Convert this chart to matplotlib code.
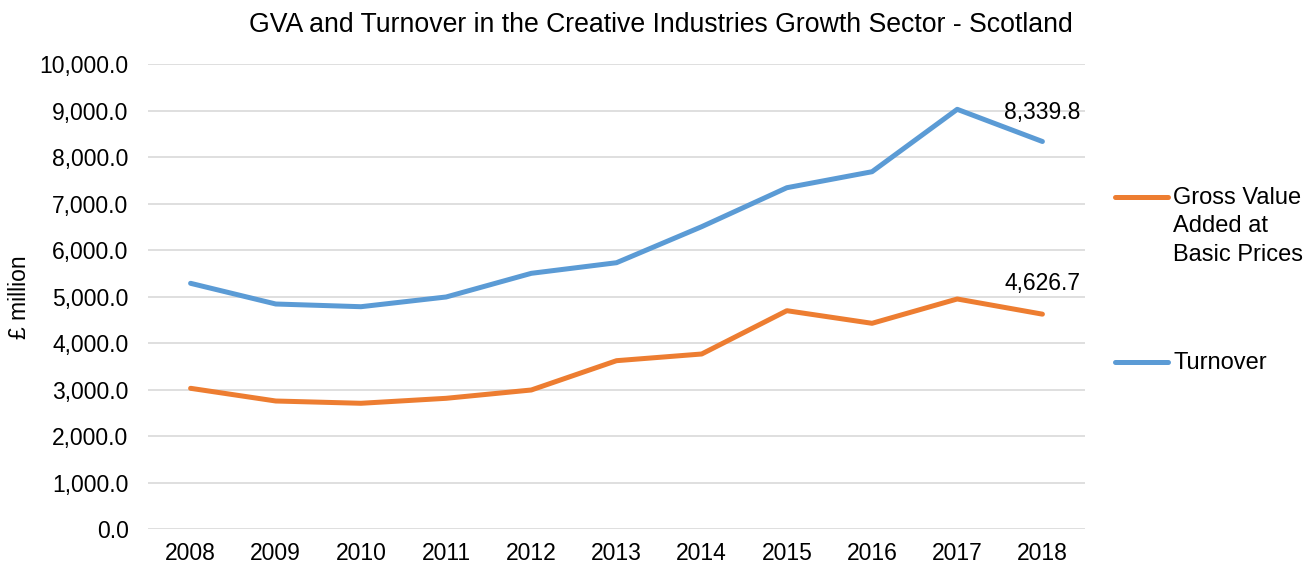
import matplotlib
matplotlib.use("Agg")
import matplotlib.pyplot as plt
from matplotlib.lines import Line2D
from matplotlib.ticker import FuncFormatter

plt.rcParams["font.family"] = ["Liberation Sans", "DejaVu Sans"]

years = ["2008", "2009", "2010", "2011", "2012", "2013", "2014", "2015", "2016", "2017", "2018"]
gva = [3032, 2759, 2710, 2817, 2996, 3626, 3770, 4701, 4430, 4953, 4626.7]
turnover = [5290, 4845, 4787, 4996, 5505, 5733, 6508, 7346, 7690, 9032, 8339.8]

gva_label = "Gross Value\nAdded at\nBasic Prices"
turnover_label = "Turnover"
title = "GVA and Turnover in the Creative Industries Growth Sector - Scotland"
ylabel = "£ million"

orange = "#ED7D31"
blue = "#5B9BD5"
fs = 16.5
W, H = 1309, 570

fig = plt.figure(figsize=(W / 100, H / 100), dpi=100)
ax = fig.add_axes([148 / W, 1 - 529.3 / H, (1085 - 148) / W, (529.3 - 64.3) / H])

x = list(range(len(years)))
l_gva, = ax.plot(x, gva, color=orange, lw=3.6, solid_capstyle="round", solid_joinstyle="round", zorder=3)
l_to, = ax.plot(x, turnover, color=blue, lw=3.6, solid_capstyle="round", solid_joinstyle="round", zorder=3)

ax.set_xlim(-0.5, len(years) - 0.5)
ax.set_ylim(0, 10000)
ax.set_yticks(range(0, 10001, 1000))
ax.yaxis.set_major_formatter(FuncFormatter(lambda v, p: f"{v:,.1f}"))
ax.set_xticks(x)
ax.set_xticklabels(years)
ax.tick_params(axis="both", length=0, labelsize=fs, colors="black")
ax.tick_params(axis="y", pad=14)
ax.tick_params(axis="x", pad=9)
ax.grid(axis="y", color="#D9D9D9", lw=1.2, zorder=0)
for s in ax.spines.values():
    s.set_visible(False)

ax.set_ylabel(ylabel, fontsize=fs, labelpad=6)

# value labels on the final year
ax.annotate(f"{turnover[-1]:,.1f}", (x[-1], turnover[-1]), xytext=(0, 21), textcoords="offset points",
            ha="center", va="center", fontsize=fs)
ax.annotate(f"{gva[-1]:,.1f}", (x[-1], gva[-1]), xytext=(0, 22), textcoords="offset points",
            ha="center", va="center", fontsize=fs)

fig.text(661 / W, 1 - 25 / H, title, ha="center", va="center", fontsize=19.2)

# legend on the right: handle level with the first text line
legend_rows = [(l_gva, gva_label, 197), (l_to, turnover_label, 362)]
for line, label, ypix in legend_rows:
    yf = 1 - ypix / H
    fig.add_artist(Line2D([1115 / W, 1168 / W], [yf, yf], color=line.get_color(), lw=line.get_linewidth(),
                          solid_capstyle="round", transform=fig.transFigure))
    fig.text(1173 / W, 1 - (ypix - 10) / H, label, ha="left", va="top", fontsize=17, linespacing=1.38)

fig.savefig("out.png", dpi=100)
